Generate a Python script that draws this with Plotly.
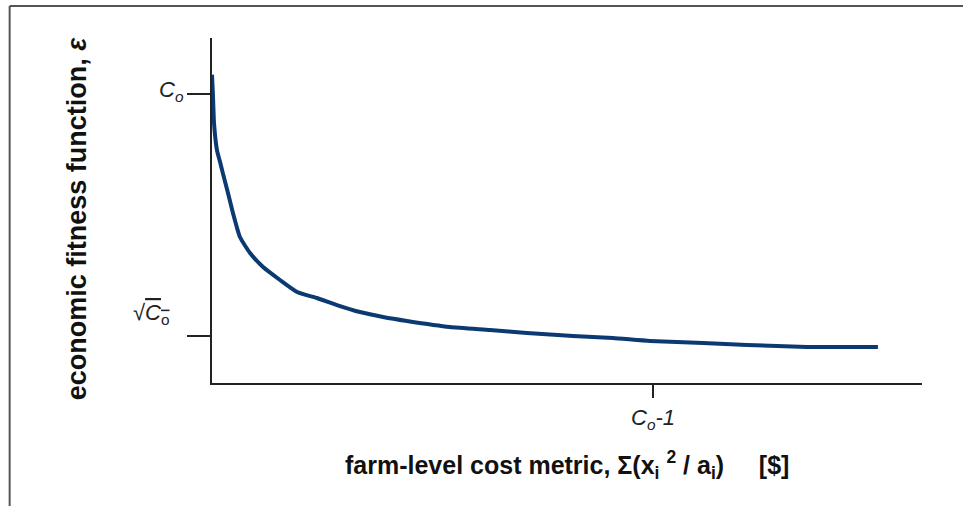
import plotly.graph_objects as go

# Curve (C_o = 25 units, so sqrt(C_o)=5 and C_o-1 = 24)
cost_metric = [0.0, 0.05, 0.11, 0.27, 0.44, 0.60, 0.87, 1.14, 1.52, 2.07, 2.78,
               3.70, 4.63, 5.71, 6.80, 8.05, 9.31, 10.61, 12.95, 15.13, 17.14,
               19.65, 21.82, 23.84, 26.72, 29.12, 32.38, 36.24]
fitness = [26.6, 25.0, 22.6, 20.37, 19.38, 18.40, 16.82, 15.17, 13.18, 11.86, 10.70,
           9.63, 8.64, 8.14, 7.56, 6.98, 6.57, 6.24, 5.74, 5.50, 5.25,
           5.00, 4.83, 4.59, 4.42, 4.26, 4.09, 4.09]

y_tick_vals = [25, 5]
x_tick_vals = [24]

fam = "Liberation Sans, Arial, sans-serif"
label_font = dict(family=fam, size=22, color="#222")
title_font = dict(family=fam, size=25, color="#111")

fig = go.Figure()
fig.add_trace(go.Scatter(
    x=cost_metric, y=fitness, mode="lines",
    line=dict(color="#0b3a72", width=4, shape="spline", smoothing=0.5),
    hoverinfo="skip", showlegend=False,
))

fig.update_layout(
    width=963, height=506,
    margin=dict(l=212, r=41, t=38, b=123),
    paper_bgcolor="white", plot_bgcolor="white",
    xaxis=dict(range=[0, 38.64], showgrid=False, zeroline=False,
               showline=True, linecolor="#222", linewidth=1.5,
               tickvals=x_tick_vals, ticks="outside", ticklen=13,
               tickcolor="#222", tickwidth=1.5, showticklabels=False),
    yaxis=dict(range=[1.116, 29.63], showgrid=False, zeroline=False,
               showline=True, linecolor="#222", linewidth=1.5,
               tickvals=y_tick_vals, ticks="outside", ticklen=23,
               tickcolor="#222", tickwidth=1.5, showticklabels=False),
    annotations=[
        dict(text="<i>C</i><sub><i>o</i></sub>", xref="paper", yref="y",
             x=-0.0366, xanchor="right", y=25, yanchor="middle", yshift=3,
             showarrow=False, font=label_font),
        dict(text="√<span style='text-decoration:overline'><i>C</i><sub>o</sub></span>",
             xref="paper", yref="y", x=-0.056, xanchor="right", y=6.8,
             yanchor="middle", showarrow=False, font=label_font),
        dict(text="<i>C</i><sub><i>o</i></sub><i>-1</i>", xref="x", yref="paper",
             x=24, xanchor="center", y=-0.104, yanchor="middle",
             showarrow=False, font=label_font),
        dict(text="<b>farm-level cost metric, Σ(x<sub>i</sub>&nbsp;<sup>2</sup>&nbsp;/&nbsp;a<sub>i</sub>)&nbsp;&nbsp;&nbsp;&nbsp;&nbsp;[$]</b>",
             xref="paper", yref="paper", x=0.5007, xanchor="center",
             y=-0.238, yanchor="middle", showarrow=False, font=title_font),
        dict(text="<b>economic fitness function, <i>ε</i></b>",
             xref="paper", yref="paper", x=-0.190, xanchor="center",
             y=0.478, yanchor="middle", textangle=-90,
             showarrow=False, font=dict(family=fam, size=27, color="#111")),
    ],
    shapes=[
        dict(type="line", xref="paper", yref="paper", x0=-0.285, x1=1.06,
             y0=1.0928, y1=1.0928, line=dict(color="#555", width=2)),
        dict(type="line", xref="paper", yref="paper", x0=-0.285, x1=-0.285,
             y0=1.0928, y1=-0.36, line=dict(color="#555", width=2)),
    ],
)

fig.write_html("out.html", config={"displayModeBar": False},
               post_script="document.body.style.margin='0';")
